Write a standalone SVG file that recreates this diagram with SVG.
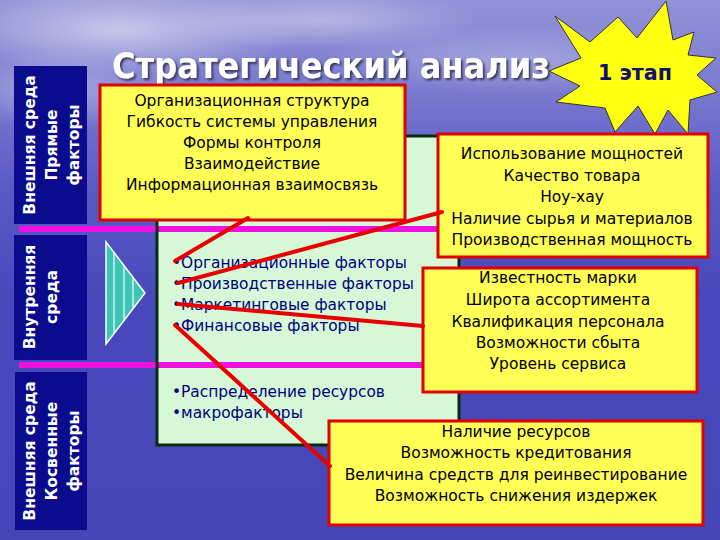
<svg xmlns="http://www.w3.org/2000/svg" width="720" height="540" viewBox="0 0 720 540">
<defs>
<linearGradient id="bg" x1="0" y1="0" x2="0" y2="1">
<stop offset="0" stop-color="#9292d8"/>
<stop offset="0.15" stop-color="#7c7cd0"/>
<stop offset="0.35" stop-color="#5a5ac6"/>
<stop offset="0.55" stop-color="#4848bc"/>
<stop offset="1" stop-color="#4646b8"/>
</linearGradient>
<radialGradient id="cloud" cx="0.5" cy="0.5" r="0.5">
<stop offset="0" stop-color="#dcdcf2" stop-opacity="0.75"/>
<stop offset="1" stop-color="#dcdcf2" stop-opacity="0"/>
</radialGradient>
<filter id="sh" x="-5%" y="-20%" width="110%" height="150%">
<feDropShadow dx="2" dy="2" stdDeviation="1" flood-color="#303050" flood-opacity="0.9"/>
</filter>
</defs>
<style>
.bar{fill:#0b0b8e}
.bt{font-family:"DejaVu Sans",Verdana,sans-serif;font-weight:bold;font-size:15.5px;fill:#ffffff;text-anchor:middle}
.box{fill:#ffff55;stroke:#e00000;stroke-width:3}
.tx{font-family:"DejaVu Sans",Verdana,sans-serif;font-size:15.5px;fill:#000000;text-anchor:middle}
.bl{font-family:"DejaVu Sans",Verdana,sans-serif;font-size:15.4px;fill:#000080}
.mg{stroke:#f010e0;stroke-width:6}
.cn{stroke:#e80000;stroke-width:4;stroke-linecap:round}
</style>
<rect x="0" y="0" width="720" height="540" fill="url(#bg)"/>
<ellipse cx="120" cy="30" rx="180" ry="45" fill="url(#cloud)"/>
<ellipse cx="320" cy="20" rx="160" ry="30" fill="url(#cloud)" opacity="0.7"/>
<ellipse cx="520" cy="60" rx="200" ry="35" fill="url(#cloud)" opacity="0.5"/>
<ellipse cx="60" cy="90" rx="120" ry="40" fill="url(#cloud)" opacity="0.6"/>

<g id="bar1">
<rect class="bar" x="14" y="66" width="73" height="158"/>
<g transform="translate(0,145) rotate(-90)">
<text class="bt" x="0" y="35">Внешняя среда</text>
<text class="bt" x="0" y="57">Прямые</text>
<text class="bt" x="0" y="79">факторы</text>
</g>
</g>
<g id="bar2">
<rect class="bar" x="14" y="235" width="73" height="125"/>
<g transform="translate(0,297) rotate(-90)">
<text class="bt" x="0" y="35">Внутренняя</text>
<text class="bt" x="0" y="57">среда</text>
</g>
</g>
<g id="bar3">
<rect class="bar" x="15" y="372" width="72" height="158"/>
<g transform="translate(0,451) rotate(-90)">
<text class="bt" x="0" y="35">Внешняя среда</text>
<text class="bt" x="0" y="57">Косвенные</text>
<text class="bt" x="0" y="79">факторы</text>
</g>
</g>

<g id="arrow">
<polygon points="106,242 145,293 106,344" fill="#3cc4b4" stroke="#ffffff" stroke-width="1.5"/>
<line x1="114" y1="252.5" x2="114" y2="333.5" stroke="#ffffff" stroke-width="1.2"/>
<line x1="124" y1="265.5" x2="124" y2="320.5" stroke="#ffffff" stroke-width="1.2"/>
<line x1="133" y1="277.3" x2="133" y2="308.7" stroke="#ffffff" stroke-width="1.2"/>
</g>

<g id="panel">
<rect x="157" y="136" width="302" height="309" fill="#d6f8d6"/>
<line class="mg" x1="19" y1="229" x2="440" y2="229"/>
<line class="mg" x1="19" y1="365" x2="440" y2="365"/>
<rect x="157" y="136" width="302" height="309" fill="none" stroke="#0a2a10" stroke-width="3"/>
<text class="bl" x="172" y="268">•Организационные факторы</text>
<text class="bl" x="172" y="289">•Производственные факторы</text>
<text class="bl" x="172" y="310">•Маркетинговые факторы</text>
<text class="bl" x="172" y="331">•Финансовые факторы</text>
<text class="bl" x="172" y="397">•Распределение ресурсов</text>
<text class="bl" x="172" y="418">•макрофакторы</text>
</g>

<g id="title">
<text x="112" y="78" font-family="DejaVu Sans, Verdana, sans-serif" font-weight="bold" font-size="35" fill="#ffffff" textLength="438" lengthAdjust="spacingAndGlyphs" filter="url(#sh)">Стратегический анализ</text>
</g>

<g id="star">
<polygon points="555,16 590,42 618,17 637,38 666,1 673,40 694,32 688,55 716,58 697,75 717,92 690,100 688,134 668,110 655,134 638,106 615,132 605,108 556,102 580,86 549,71 581,58" fill="#ffff10" stroke="#333333" stroke-width="1"/>
<text x="635" y="80" font-family="DejaVu Sans, Verdana, sans-serif" font-weight="bold" font-size="22" fill="#10106e" text-anchor="middle" textLength="74" lengthAdjust="spacingAndGlyphs">1 этап</text>
</g>

<g id="box-top">
<rect class="box" x="100" y="85" width="305" height="135"/>
<text class="tx" x="252" y="106">Организационная структура</text>
<text class="tx" x="252" y="127">Гибкость системы управления</text>
<text class="tx" x="252" y="148">Формы контроля</text>
<text class="tx" x="252" y="169">Взаимодействие</text>
<text class="tx" x="252" y="190">Информационная взаимосвязь</text>
</g>

<g id="box-right1">
<rect class="box" x="438" y="134" width="270" height="123"/>
<text class="tx" x="572" y="159">Использование мощностей</text>
<text class="tx" x="572" y="181">Качество товара</text>
<text class="tx" x="572" y="202">Ноу-хау</text>
<text class="tx" x="572" y="224">Наличие сырья и материалов</text>
<text class="tx" x="572" y="245">Производственная мощность</text>
</g>

<g id="box-right2">
<rect class="box" x="423" y="268" width="274" height="124"/>
<text class="tx" x="558" y="283">Известность марки</text>
<text class="tx" x="558" y="305">Широта ассортимента</text>
<text class="tx" x="558" y="327">Квалификация персонала</text>
<text class="tx" x="558" y="348">Возможности сбыта</text>
<text class="tx" x="558" y="369">Уровень сервиса</text>
</g>

<g id="box-bottom">
<rect class="box" x="329" y="421" width="374" height="104"/>
<text class="tx" x="516" y="437">Наличие ресурсов</text>
<text class="tx" x="516" y="458">Возможность кредитования</text>
<text class="tx" x="516" y="480">Величина средств для реинвестирование</text>
<text class="tx" x="516" y="501">Возможность снижения издержек</text>
</g>

<g id="connectors">
<line class="cn" x1="248" y1="218" x2="175" y2="261"/>
<line class="cn" x1="442" y1="212" x2="178" y2="283"/>
<line class="cn" x1="423" y1="326" x2="178" y2="304"/>
<line class="cn" x1="175" y1="325" x2="330" y2="466"/>
</g>
</svg>
